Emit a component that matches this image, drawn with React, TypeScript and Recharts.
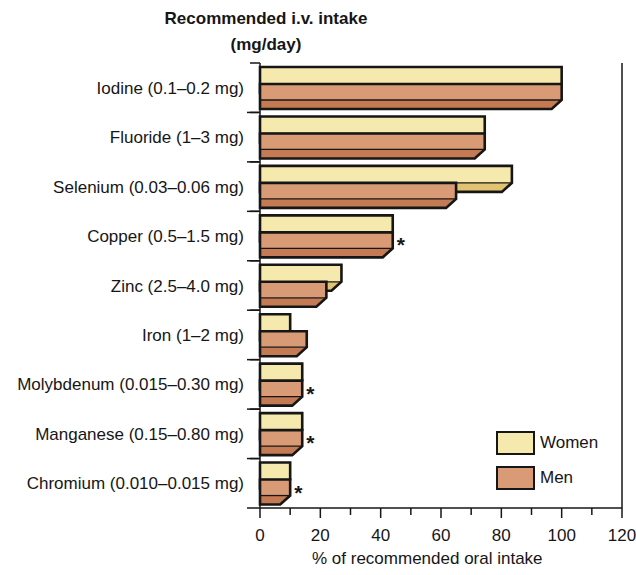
import React from 'react';
import { BarChart, Bar, XAxis, YAxis, ReferenceLine, LabelList } from 'recharts';

const minerals = [
  'Iodine (0.1–0.2 mg)',
  'Fluoride (1–3 mg)',
  'Selenium (0.03–0.06 mg)',
  'Copper (0.5–1.5 mg)',
  'Zinc (2.5–4.0 mg)',
  'Iron (1–2 mg)',
  'Molybdenum (0.015–0.30 mg)',
  'Manganese (0.15–0.80 mg)',
  'Chromium (0.010–0.015 mg)',
];
const women = [100, 74.5, 83.5, 44, 27, 10, 14, 14, 10];
const men = [100, 74.5, 65, 44, 22, 15.5, 14, 14, 10];
const notes = ['', '', '', '*', '', '', '*', '*', '*'];
const xTicks = [0, 10, 20, 30, 40, 50, 60, 70, 80, 90, 100, 110, 120];

const data = minerals.map((name, i) => ({ name, women: women[i], men: men[i], note: notes[i] }));

const FONT = '"Liberation Sans", Arial, sans-serif';
const INK = '#161616';
const W_FRONT = '#f6e9ad';
const W_SIDE = '#e2c372';
const M_FRONT = '#d89b76';
const M_SIDE = '#c47a53';

const CHART_TOP = 63;
const PLOT_H = 445;
const HALF_BAND = PLOT_H / minerals.length / 2;
const DEPTH = 9;
const SLANT = 10;

// front face + bottom face seen from below, right end cut at 45deg
const Bar3D = (props: any) => {
  const { x, y, width, height, front, side, depthInside } = props;
  if (!width || width <= 0) return null;
  const fh = depthInside ? height - DEPTH : height;
  const yb = y + fh;
  const s = Math.min(SLANT, width);
  const sidePts = `${x},${yb} ${x + width},${yb} ${x + width - s},${yb + DEPTH} ${x},${yb + DEPTH}`;
  const outline = `M${x},${y} L${x + width},${y} L${x + width},${yb} L${x + width - s},${yb + DEPTH} L${x},${yb + DEPTH} Z`;
  return (
    <g>
      <polygon points={sidePts} fill={side} />
      <rect x={x} y={y} width={width} height={fh} fill={front} />
      <line x1={x} y1={yb} x2={x + width} y2={yb} stroke={INK} strokeWidth={1.3} />
      <path d={outline} fill="none" stroke={INK} strokeWidth={2.6} strokeLinejoin="miter" />
    </g>
  );
};

const CategoryTick = (props: any) => {
  const { x, y, payload } = props;
  return (
    <g>
      <line x1={x - 10} y1={y - HALF_BAND} x2={x} y2={y - HALF_BAND} stroke={INK} strokeWidth={1.5} />
      <line x1={x - 13} y1={y + HALF_BAND} x2={x} y2={y + HALF_BAND} stroke={INK} strokeWidth={1.5} />
      <text x={x - 16} y={y + 6} textAnchor="end" fontFamily={FONT} fontSize={17} fill={INK}>
        {payload.value}
      </text>
    </g>
  );
};

const ValueTick = (props: any) => {
  const { x, y, payload } = props;
  const major = payload.value % 20 === 0;
  return (
    <g>
      <line x1={x} y1={y} x2={x} y2={y + (major ? 10 : 7)} stroke={INK} strokeWidth={1.5} />
      {major && (
        <text x={x} y={y + 33} textAnchor="middle" fontFamily={FONT} fontSize={17} fill={INK}>
          {payload.value}
        </text>
      )}
    </g>
  );
};

const Asterisk = (props: any) => {
  const { x, y, width, value } = props;
  if (!value) return null;
  return (
    <text x={x + width + 4} y={y + 20} fontFamily={FONT} fontSize={21} fontWeight="bold" fill={INK}>
      {value}
    </text>
  );
};

const legendItems = [
  { label: 'Women', color: W_FRONT },
  { label: 'Men', color: M_FRONT },
];

export default function App() {
  return (
    <div style={{ position: 'absolute', left: 0, top: 0, width: 636, height: 575, background: '#fff', fontFamily: FONT, color: INK }}>
      <div style={{ position: 'absolute', left: 116, top: 6, width: 300, textAlign: 'center', fontWeight: 'bold', fontSize: 17, lineHeight: '26px', whiteSpace: 'nowrap' }}>
        Recommended i.v. intake
        <br />
        (mg/day)
      </div>
      <BarChart
        width={636}
        height={575}
        data={data}
        layout="vertical"
        barGap={0}
        margin={{ top: CHART_TOP, right: 14, bottom: 0, left: 0 }}
      >
        <XAxis
          type="number"
          domain={[0, 120]}
          ticks={xTicks}
          interval={0}
          tickSize={0}
          tickMargin={0}
          tickLine={false}
          tick={<ValueTick />}
          height={67}
          axisLine={{ stroke: INK, strokeWidth: 1.5 }}
        />
        <XAxis
          xAxisId="top"
          orientation="top"
          type="number"
          domain={[0, 120]}
          tick={false}
          tickLine={false}
          height={0}
          axisLine={{ stroke: INK, strokeWidth: 1.5 }}
        />
        <YAxis
          type="category"
          dataKey="name"
          width={260}
          tickSize={0}
          tickMargin={0}
          tickLine={false}
          interval={0}
          tick={<CategoryTick />}
          axisLine={{ stroke: INK, strokeWidth: 1.5 }}
        />
        <ReferenceLine x={120} stroke={INK} strokeWidth={1.5} />
        <Bar
          dataKey="women"
          barSize={17}
          isAnimationActive={false}
          shape={(p: any) => <Bar3D {...p} front={W_FRONT} side={W_SIDE} depthInside={false} />}
        />
        <Bar
          dataKey="men"
          barSize={25}
          isAnimationActive={false}
          shape={(p: any) => <Bar3D {...p} front={M_FRONT} side={M_SIDE} depthInside={true} />}
        >
          <LabelList dataKey="note" content={<Asterisk />} />
        </Bar>
      </BarChart>
      <div style={{ position: 'absolute', left: 312, top: 549, fontSize: 17, whiteSpace: 'nowrap' }}>
        % of recommended oral intake
      </div>
      {legendItems.map((it, i) => (
        <div key={it.label} style={{ position: 'absolute', left: 496, top: 431 + i * 35, display: 'flex', alignItems: 'center' }}>
          <div style={{ width: 35, height: 20, background: it.color, border: `2px solid ${INK}` }} />
          <span style={{ marginLeft: 5, fontSize: 17 }}>{it.label}</span>
        </div>
      ))}
    </div>
  );
}
